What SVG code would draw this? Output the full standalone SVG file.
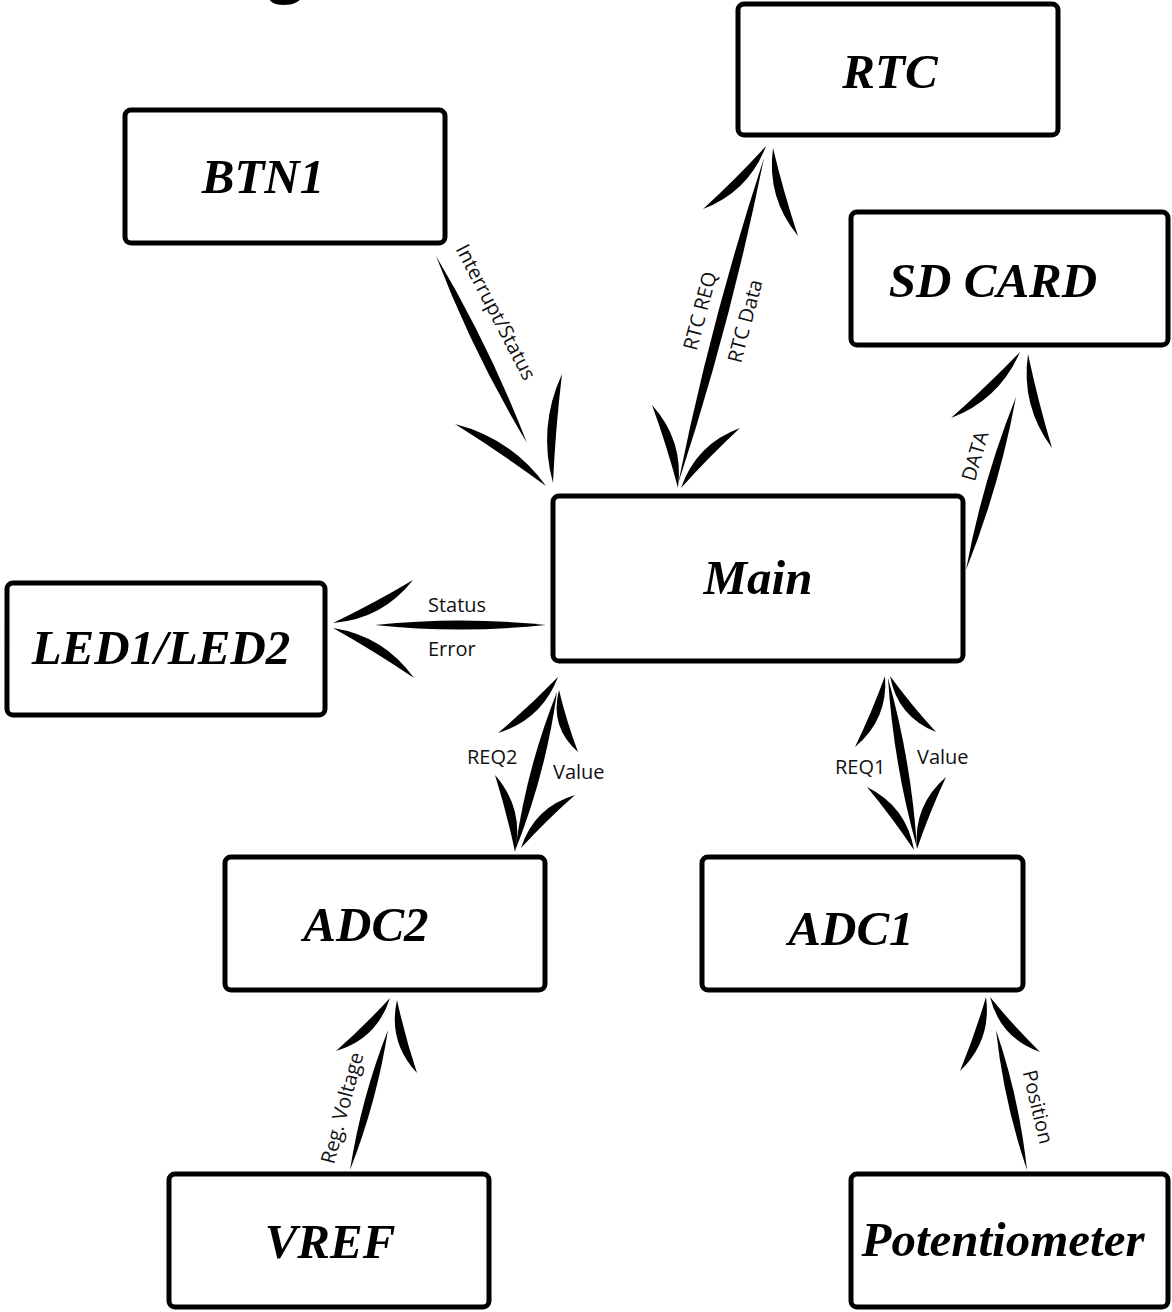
<svg xmlns="http://www.w3.org/2000/svg" width="1172" height="1312" viewBox="0 0 1172 1312">
<style>
.box{fill:#fff;stroke:#000;stroke-width:5}
.nt{font-family:"Liberation Serif","Times New Roman",serif;font-weight:bold;font-style:italic;font-size:49px;fill:#000;text-anchor:middle}
.lb{font-family:"Open Sans","DejaVu Sans",sans-serif;font-size:20px;fill:#111}
.lc{text-anchor:middle}
.ink{fill:#000;stroke:none}
</style>
<rect width="1172" height="1312" fill="#fff"/>
<text x="268" y="-11" font-family="Open Sans, sans-serif" font-weight="bold" font-size="64">g</text>
<g id="connectors" class="ink">
  <g id="c-btn1-main">
    <path d="M436,256 Q472.9,352.9 527,443 Q489.1,345.1 436,256 Z"/>
    <path d="M546,486 Q511.8,438.5 455,424 Q501.6,453.3 546,486 Z"/>
    <path d="M553,483 Q537.6,426.9 562,374 Q555.5,428.3 553,483 Z"/>
    <text class="lb lc" transform="translate(496,312) rotate(62.6)" dy="0.35em">Interrupt/Status</text>
  </g>
  <g id="c-main-rtc">
    <path d="M678,484 Q730.7,323.6 764,158 Q711.3,318.5 678,484 Z"/>
    <path d="M766,146 Q748.6,191.6 703,209 Q735.9,178.9 766,146 Z"/>
    <path d="M773,148 Q766.3,197.5 798,236 Q783.6,192.5 773,148 Z"/>
    <path d="M678,488 Q684.1,440.5 652,405 Q666.9,445.9 678,488 Z"/>
    <path d="M681,488 Q696.2,444 740,428 Q709.1,456.6 681,488 Z"/>
    <text class="lb lc" transform="translate(700,311) rotate(-75.2)" dy="0.35em">RTC REQ</text>
    <text class="lb lc" transform="translate(745,321) rotate(-75.2)" dy="0.35em">RTC Data</text>
  </g>
  <g id="c-main-sd">
    <path d="M966,570 Q999.6,486 1016,397 Q982.4,481 966,570 Z"/>
    <path d="M1020,352 Q999.3,399.5 951,418 Q986.9,386.4 1020,352 Z"/>
    <path d="M1028,354 Q1020.6,405.9 1052,448 Q1038.1,401.5 1028,354 Z"/>
    <text class="lb lc" transform="translate(975,456) rotate(-73.8)" dy="0.35em">DATA</text>
  </g>
  <g id="c-main-led">
    <path d="M546,625 Q460.5,616 375,625 Q460.5,634 546,625 Z"/>
    <path d="M333,623 Q382.5,619.1 413,580 Q373.9,603.3 333,623 Z"/>
    <path d="M333,628 Q384,636 414,678 Q374.6,651.3 333,628 Z"/>
    <text class="lb" x="428" y="612">Status</text>
    <text class="lb" x="428" y="656">Error</text>
  </g>
  <g id="c-main-adc2">
    <path d="M515,851 Q545.7,774 557,692 Q526.3,769 515,851 Z"/>
    <path d="M558,677 Q541.7,719.6 498,733 Q529.4,706.5 558,677 Z"/>
    <path d="M559,690 Q549.4,726.9 578,752 Q566.6,721.6 559,690 Z"/>
    <path d="M515,852 Q524.3,808.5 495,775 Q506.9,813 515,852 Z"/>
    <path d="M521,848 Q534,807.2 575,795 Q546.6,820.1 521,848 Z"/>
    <text class="lb" x="467" y="764">REQ2</text>
    <text class="lb" x="553" y="779">Value</text>
  </g>
  <g id="c-main-adc1">
    <path d="M888,678 Q893.6,764.5 917,848 Q911.4,761.5 888,678 Z"/>
    <path d="M885,676 Q888.4,719.3 855,747 Q871.8,712.3 885,676 Z"/>
    <path d="M890,676 Q897.5,716.7 936,732 Q911.5,705.3 890,676 Z"/>
    <path d="M914,850 Q906.5,806.5 867,787 Q892.1,817.3 914,850 Z"/>
    <path d="M917,849 Q912.9,805.5 946,777 Q929.6,812.3 917,849 Z"/>
    <text class="lb" x="835" y="774">REQ1</text>
    <text class="lb" x="917" y="764">Value</text>
  </g>
  <g id="c-vref-adc2">
    <path d="M350,1170 Q376.7,1102.1 388,1030 Q361.3,1097.9 350,1170 Z"/>
    <path d="M390,998 Q377,1038.8 336,1051 Q364.4,1025.9 390,998 Z"/>
    <path d="M397,1000 Q387.7,1041.8 417,1073 Q405.1,1037 397,1000 Z"/>
    <text class="lb lc" transform="translate(342,1108) rotate(-75)" dy="0.35em">Reg. Voltage</text>
  </g>
  <g id="c-pot-adc1">
    <path d="M1027,1170 Q1019.3,1098.3 996,1030 Q1003.7,1101.7 1027,1170 Z"/>
    <path d="M986,997 Q991.9,1040.6 960,1071 Q974.9,1034.7 986,997 Z"/>
    <path d="M990,997 Q1000.2,1038 1040,1052 Q1013.5,1025.8 990,997 Z"/>
    <text class="lb lc" transform="translate(1038,1107) rotate(76.5)" dy="0.35em">Position</text>
  </g>
</g>
<g id="n-btn1"><rect class="box" x="125" y="110" width="320" height="133" rx="6"/><text class="nt" x="263" y="193">BTN1</text></g>
<g id="n-rtc"><rect class="box" x="738" y="4" width="320" height="131" rx="6"/><text class="nt" x="890" y="88">RTC</text></g>
<g id="n-sd"><rect class="box" x="851" y="212" width="317" height="133" rx="6"/><text class="nt" x="993" y="297">SD CARD</text></g>
<g id="n-main"><rect class="box" x="553" y="496" width="410" height="165" rx="6"/><text class="nt" x="758" y="594">Main</text></g>
<g id="n-led"><rect class="box" x="7" y="583" width="318" height="132" rx="6"/><text class="nt" x="161" y="664">LED1/LED2</text></g>
<g id="n-adc2"><rect class="box" x="225" y="857" width="320" height="133" rx="6"/><text class="nt" x="366" y="941">ADC2</text></g>
<g id="n-adc1"><rect class="box" x="702" y="857" width="321" height="133" rx="6"/><text class="nt" x="851" y="945">ADC1</text></g>
<g id="n-vref"><rect class="box" x="169" y="1174" width="320" height="133" rx="6"/><text class="nt" x="330" y="1258">VREF</text></g>
<g id="n-pot"><rect class="box" x="851" y="1174" width="317" height="133" rx="6"/><text class="nt" x="1003" y="1256">Potentiometer</text></g>
</svg>
